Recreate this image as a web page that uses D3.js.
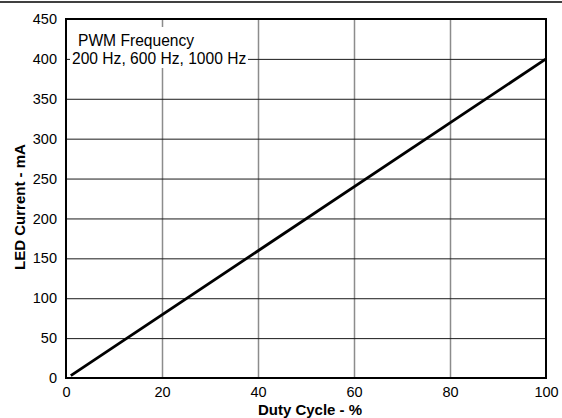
<!DOCTYPE html>
<html>
<head>
<meta charset="utf-8">
<script src="https://cdn.jsdelivr.net/npm/d3@7"></script>
<style>
  body { margin: 0; background: #fff; }
  text { font-family: "Liberation Sans", Arial, sans-serif; }
</style>
</head>
<body>
<svg width="562" height="418"></svg>
<script>
var duty = [1, 100];
var current = [3, 400];
var xTicks = [0, 20, 40, 60, 80, 100];
var yTicks = [0, 50, 100, 150, 200, 250, 300, 350, 400, 450];
var noteLines = ['PWM Frequency', '200 Hz, 600 Hz, 1000 Hz'];

var svg = d3.select('svg');
// plot box edges (note: "top" is reserved on window, so use other names)
var plotLeft = 66, plotRight = 546, plotTop = 19, plotBottom = 378;

var x = d3.scaleLinear().domain([0, 100]).range([plotLeft, plotRight]);
var y = d3.scaleLinear().domain([0, 450]).range([plotBottom, plotTop]);

// rule across the top of the page
svg.append('line')
  .attr('x1', 0).attr('x2', 562).attr('y1', 2).attr('y2', 2)
  .attr('stroke', '#000').attr('stroke-width', 1.5);

// vertical grid (grey)
svg.append('g')
  .attr('transform', 'translate(0,' + plotBottom + ')')
  .call(d3.axisBottom(x).tickValues(xTicks.slice(1, -1)).tickSize(-(plotBottom - plotTop)).tickFormat(''))
  .call(function(g) {
    g.select('.domain').remove();
    g.selectAll('line').attr('stroke', '#8c8c8c').attr('stroke-width', 1.5);
  });

// horizontal grid (dark)
svg.append('g')
  .attr('transform', 'translate(' + plotLeft + ',0)')
  .call(d3.axisLeft(y).tickValues(yTicks.slice(1, -1)).tickSize(-(plotRight - plotLeft)).tickFormat(''))
  .call(function(g) {
    g.select('.domain').remove();
    g.selectAll('line').attr('stroke', '#1a1a1a').attr('stroke-width', 1);
  });

// white box behind the note
svg.append('rect')
  .attr('x', 70).attr('y', 27).attr('width', 178).attr('height', 41)
  .attr('fill', '#fff');

svg.selectAll('text.note').data(noteLines).enter().append('text')
  .attr('class', 'note')
  .attr('x', function(d, i) { return i === 0 ? 78 : 72; })
  .attr('y', function(d, i) { return 46 + i * 18; })
  .attr('font-size', 15.6)
  .attr('fill', '#000')
  .text(function(d) { return d; });

// frame
svg.append('rect')
  .attr('x', plotLeft).attr('y', plotTop)
  .attr('width', plotRight - plotLeft).attr('height', plotBottom - plotTop)
  .attr('fill', 'none').attr('stroke', '#000').attr('stroke-width', 2);

// data line
var pts = duty.map(function(d, i) { return [d, current[i]]; });
svg.append('path')
  .datum(pts)
  .attr('fill', 'none')
  .attr('stroke', '#000')
  .attr('stroke-width', 2.8)
  .attr('d', d3.line().x(function(d) { return x(d[0]); }).y(function(d) { return y(d[1]); }));

// axis labels
var xAxis = svg.append('g')
  .attr('transform', 'translate(0,' + plotBottom + ')')
  .call(d3.axisBottom(x).tickValues(xTicks).tickSize(0).tickPadding(9));
xAxis.select('.domain').remove();
xAxis.selectAll('text').attr('font-size', 14.5).attr('fill', '#000')
  .attr('font-family', '"Liberation Sans", Arial, sans-serif');

var yAxis = svg.append('g')
  .attr('transform', 'translate(' + plotLeft + ',0)')
  .call(d3.axisLeft(y).tickValues(yTicks).tickSize(0).tickPadding(9));
yAxis.select('.domain').remove();
yAxis.selectAll('text').attr('font-size', 14.5).attr('fill', '#000')
  .attr('font-family', '"Liberation Sans", Arial, sans-serif');

svg.append('text')
  .attr('x', 310).attr('y', 415)
  .attr('text-anchor', 'middle')
  .attr('font-size', 15).attr('font-weight', 'bold')
  .text('Duty Cycle - %');

svg.append('text')
  .attr('transform', 'translate(25,207) rotate(-90)')
  .attr('text-anchor', 'middle')
  .attr('font-size', 15).attr('font-weight', 'bold')
  .text('LED Current - mA');
</script>
</body>
</html>
